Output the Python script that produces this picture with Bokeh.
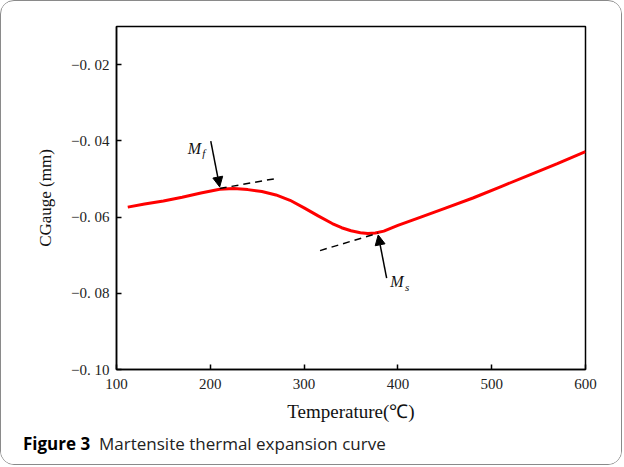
from bokeh.plotting import figure
from bokeh.layouts import column
from bokeh.models import (Range1d, FixedTicker, Label, Arrow, NormalHead, ColumnDataSource, Div)
from bokeh.embed import file_html
from bokeh.resources import INLINE

# ---- data ----
temperature = [112, 130, 150, 170, 190, 210, 225, 240, 255, 270, 285, 300, 315,
               330, 340, 350, 360, 368, 376, 385, 400, 420, 450, 480, 510, 540, 570, 600]
cgauge = [-0.0574, -0.0566, -0.0558, -0.0548, -0.0537, -0.0527, -0.0525, -0.0528,
          -0.0533, -0.0542, -0.0556, -0.0576, -0.0597, -0.0617, -0.0628, -0.0636,
          -0.0641, -0.0643, -0.0642, -0.0637, -0.0622, -0.0604, -0.0577, -0.0550,
          -0.0520, -0.0490, -0.0460, -0.0428]

mf_tangent_t = [210, 272]
mf_tangent_v = [-0.0525, -0.0498]
ms_tangent_t = [317, 379]
ms_tangent_v = [-0.0688, -0.0642]

mf_arrow = dict(t0=200.5, v0=-0.0401, t1=210.0, v1=-0.0521)
ms_arrow = dict(t0=388.0, v0=-0.0760, t1=379.0, v1=-0.0647)

mf_label = dict(t=183, v=-0.0420)
ms_label = dict(t=399, v=-0.0770)

x_ticks = [100, 200, 300, 400, 500, 600]
y_ticks = [-0.10, -0.08, -0.06, -0.04, -0.02]
y_tick_labels = ["\u22120. 10", "\u22120. 08", "\u22120. 06", "\u22120. 04", "\u22120. 02"]

x_title = "Temperature(\u2103)"
y_title = "CGauge (mm)"
caption_bold = "Figure 3"
caption_text = "Martensite thermal expansion curve"

SERIF = "Liberation Serif"

p = figure(width=620, height=425, output_backend="svg", toolbar_location=None,
           x_range=Range1d(100, 600), y_range=Range1d(-0.10, -0.01),
           min_border_left=115, min_border_right=36, min_border_top=25,
           min_border_bottom=57)

p.grid.visible = False
p.outline_line_color = "black"
p.outline_line_width = 1.5
p.background_fill_color = "white"
p.border_fill_color = "white"

for ax in (p.xaxis[0], p.yaxis[0]):
    ax.axis_line_color = "black"
    ax.axis_line_width = 1.5
    ax.major_tick_in = 5
    ax.major_tick_out = 0
    ax.major_tick_line_color = "black"
    ax.major_tick_line_width = 1.5
    ax.minor_tick_line_color = None
    ax.major_label_text_font = SERIF
    ax.major_label_text_font_size = "15px"
    ax.major_label_text_color = "#222222"
    ax.axis_label_text_font = SERIF
    ax.axis_label_text_font_style = "normal"
    ax.axis_label_text_color = "#111111"

p.xaxis.ticker = FixedTicker(ticks=x_ticks)
p.yaxis.ticker = FixedTicker(ticks=y_ticks)
p.yaxis.major_label_overrides = {v: s for v, s in zip(y_ticks, y_tick_labels)}
p.xaxis.axis_label = x_title
p.yaxis.axis_label = y_title
p.xaxis.axis_label_text_font_size = "19px"
p.yaxis.axis_label_text_font_size = "17px"
p.xaxis.major_label_standoff = 9
p.yaxis.major_label_standoff = 7
p.xaxis.axis_label_standoff = 9
p.yaxis.axis_label_standoff = 13

src = ColumnDataSource(dict(t=temperature, v=cgauge))
p.line("t", "v", source=src, line_color="#ff0000", line_width=3)

p.line(mf_tangent_t, mf_tangent_v, line_color="black", line_width=1.5, line_dash="7 5")
p.line(ms_tangent_t, ms_tangent_v, line_color="black", line_width=1.5, line_dash="7 5")

for a in (mf_arrow, ms_arrow):
    p.add_layout(Arrow(x_start=a["t0"], y_start=a["v0"], x_end=a["t1"], y_end=a["v1"],
                       line_color="black", line_width=1.5,
                       end=NormalHead(size=10, fill_color="black", line_color="black")))

for lab, sub in ((mf_label, "f"), (ms_label, "s")):
    p.add_layout(Label(x=lab["t"], y=lab["v"], text="M", text_font=SERIF,
                       text_font_style="italic", text_font_size="16px",
                       text_align="center", text_baseline="middle", text_color="#111111"))
    p.add_layout(Label(x=lab["t"], y=lab["v"], x_offset=8, y_offset=-5, text=sub,
                       text_font=SERIF, text_font_style="italic", text_font_size="11px",
                       text_align="left", text_baseline="middle", text_color="#111111"))

# ---- caption strip ----
cap = Div(width=620, height=38,
          text=('<div style="padding:7px 0 0 22px; font-family:\'Open Sans\'; '
                'font-size:17px; line-height:22px; color:#222; white-space:nowrap;">'
                '<span style="font-weight:700; color:#000;">' + caption_bold + '</span>'
                '&nbsp;&nbsp;' + caption_text + '</div>'),
          styles={"margin": "0", "background": "white"})

layout = column(p, cap, spacing=0,
                styles={"border": "1.5px solid #8a8a8a", "border-radius": "14px",
                        "overflow": "hidden", "background": "white"})

open("out.html", "w").write(file_html(layout, INLINE))
